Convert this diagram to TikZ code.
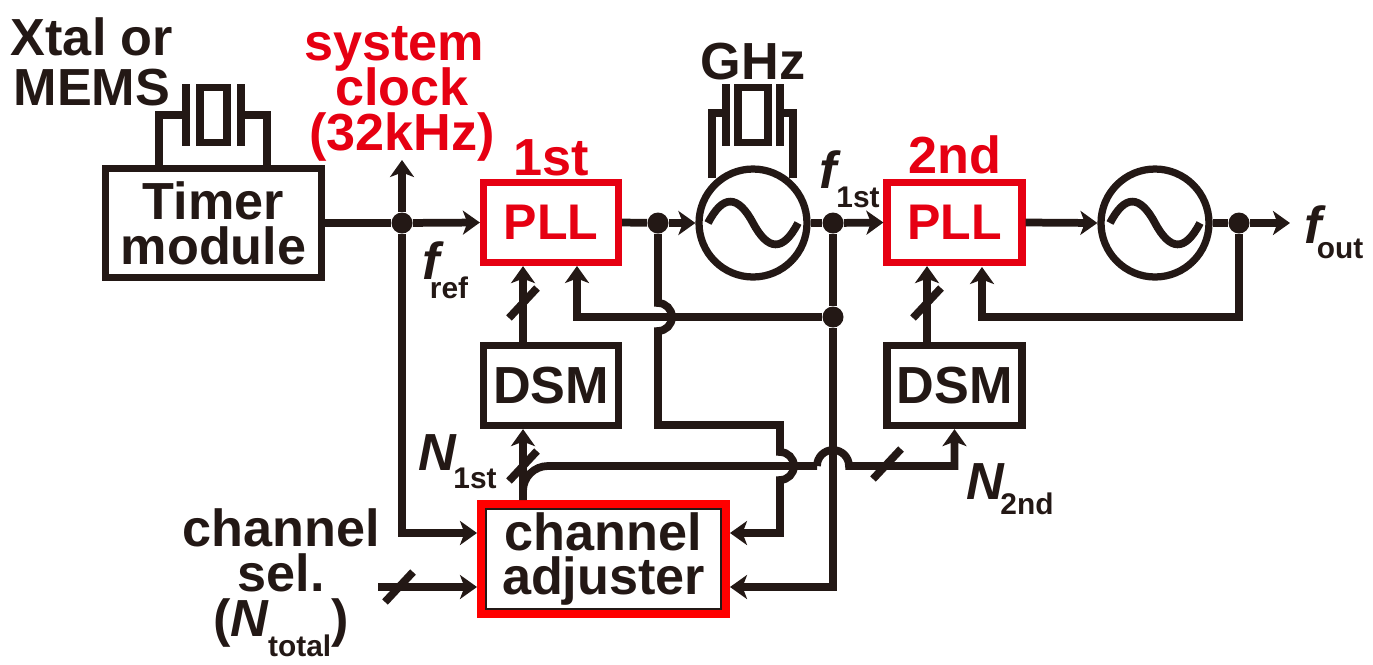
\documentclass[tikz,border=0pt]{standalone}
\usepackage{fontspec}
\setmainfont{Liberation Sans}
\usetikzlibrary{arrows.meta}
\definecolor{ink}{HTML}{231815}
\definecolor{pllred}{HTML}{E60012}
\lineskiplimit=-30pt
\tikzset{
  wire/.style={draw=ink,line width=.155cm},
  wirearrow/.style={wire,-{Stealth[length=.34cm,width=.48cm,inset=.09cm]}},
  blackbox/.style={draw=ink,line width=.145cm,fill=white,minimum width=2.7cm,minimum height=1.6cm,inner sep=0pt,text=ink},
  redbox/.style={blackbox,draw=pllred,text=pllred,font=\fontsize{28.5}{25}\selectfont\bfseries},
  dot/.style={circle,fill=ink,minimum size=.42cm,inner sep=0pt},
  vco/.style={circle,draw=ink,line width=.145cm,fill=white,minimum size=2.16cm,inner sep=0pt},
  big/.style={text=ink,inner sep=0pt},
  small/.style={font=\fontsize{17}{20}\selectfont\bfseries,text=ink,inner sep=0pt},
  bigit/.style={big,font=\fontsize{29.7}{25.6}\selectfont\bfseries\itshape}
}
\begin{document}
\begin{tikzpicture}[x=.02cm,y=-.02cm,every node/.append style={font=\fontsize{29.7}{25.6}\selectfont\bfseries,align=center}]
\useasboundingbox (0,0) rectangle (1373,664);

% blocks
\node[blackbox,minimum width=4.32cm,minimum height=2.18cm] (timer) at (213.5,223) {Timer\\module};
\node[redbox] (plla) at (551,222.5) {PLL};
\node[redbox] (pllb) at (954.5,222.5) {PLL};
\node[blackbox] (dsma) at (551,385.5) {DSM};
\node[blackbox] (dsmb) at (954.5,385.5) {DSM};
\node[blackbox,draw=red,line width=.18cm,minimum width=4.88cm,minimum height=2.18cm] (adj) at (603.5,559) {channel\\adjuster};
\draw[ink,line width=.025cm] ([shift={(9,9)}]adj.north west) rectangle ([shift={(-9,-9)}]adj.south east);
\node[vco] (vcoa) at (753,223) {};
\node[vco] (vcob) at (1155,223) {};

\foreach \c in {vcoa,vcob}
    \draw[wire,shift={(\c.center)}] (-45,0) .. controls (-30,-29) and (-15,-28) .. (0,0) .. controls (15,28) and (30,29) .. (45,0);

% junctions
\node[dot] (jref) at (402,223) {};
\node[dot] (jb) at (658,223) {};
\node[dot] (jc) at (833,223) {};
\node[dot] (jd) at (833,317) {};
\node[dot] (je) at (1239,223) {};

\coordinate (clk) at (402,160);
\coordinate (out) at (1290,223);
\coordinate (adja) at (477,533);
\coordinate (adjb) at (730,533);
\coordinate (adjc) at (730,587);
\coordinate (sel) at (378,587);
\coordinate (adjs) at (477,587);
\coordinate (fba) at (577,266);
\coordinate (fbb) at (982,267);
\coordinate (hopa) at (658,303);
\coordinate (bend) at (658,425);
\coordinate (hopb) at (780,452);
\coordinate (hopc) at (817,466);
\coordinate (tap) at (523,500);

% main path
\draw[wire] (timer.east) -- (jref);
\draw[wirearrow] (jref) -- (plla.west);
\draw[wirearrow] (jref) -- (clk);
\draw[wirearrow] (jref) |- (adja);
\draw[wire] (plla.east) -- (jb);
\draw[wirearrow] (jb) -- (vcoa.west);
\draw[wire] (vcoa.east) -- (jc);
\draw[wirearrow] (jc) -- (pllb.west);
\draw[wirearrow] (pllb.east) -- (vcob.west);
\draw[wire] (vcob.east) -- (je);
\draw[wirearrow] (je) -- (out);

% feedback
\draw[wire] (jc) -- (jd);
\draw[wirearrow] (jd) |- (adjc);
\draw[wirearrow] (jd) -| (fba);
\draw[wirearrow] (je) |- (982,317) -- (fbb);
\draw[wirearrow] (jb) -- (hopa) arc[start angle=90,end angle=-90,radius=.28cm] -- (bend) -| (hopb) arc[start angle=90,end angle=-90,radius=.28cm] |- (adjb);

% N words
\draw[wirearrow] (tap) -- (dsma.south -| tap);
\draw[wire,rounded corners=.5cm] (tap) |- (hopc);
\draw[wirearrow] (hopc) arc[start angle=180,end angle=0,radius=.32cm] -| (dsmb.south);
\draw[wirearrow] (dsma.north -| tap) -- (plla.south -| tap);
\draw[wirearrow] (dsmb.north -| 927,0) -- (pllb.south -| 927,0);
\draw[wirearrow] (sel) -- (adjs);

\foreach \p in {(523,303),(523,466),(927,303),(887,464),(399,587)}
    \draw[wire,shift={\p}] (-14,15) -- (14,-15);

% crystals
\node[draw=ink,line width=.145cm,minimum width=.54cm,minimum height=1.1cm,inner sep=0pt] (xa) at (213.5,115) {};
\draw[wire] (186,84) -- (186,146);
\draw[wire] (241,84) -- (241,146);
\draw[wire] (159,165) |- (186,115);
\draw[wire] (267,165) |- (241,115);
\node[draw=ink,line width=.145cm,minimum width=.6cm,minimum height=1.1cm,inner sep=0pt] (xb) at (753,115) {};
\draw[wire] (726,84) -- (726,146);
\draw[wire] (780,84) -- (780,146);
\draw[wire] (712,178) |- (726,113);
\draw[wire] (793,178) |- (780,113);

% labels
\node[big] (xtal) at (92,62) {Xtal or\\[3pt]MEMS};
\node[big,text=pllred] (sysclk) at (402,94) {system\kern.32cm\\clock\\(32kHz)};
\node[big,text=pllred] (lfirst) at (551,158) {1st};
\node[big,text=pllred] (lsecond) at (955,155) {2nd};
\node[big] (ghz) at (753,62) {GHz};
\node[big] (chsel) at (281,583) {channel\\sel.\\(\textit{N}\kern-.02em\raisebox{-.38em}{\fontsize{17}{17}\selectfont total})};

\node[bigit] (fref) at (431,261) {f};
\node[small] (frefs) at (449,288) {ref};
\node[bigit] (ffirst) at (828,170) {f};
\node[small] (ffirsts) at (858,197) {1st};
\node[bigit] (fout) at (1313,225) {f};
\node[small] (fouts) at (1340,249) {out};
\node[bigit] (nfirst) at (437,453) {N};
\node[small] (nfirsts) at (475,478) {1st};
\node[bigit] (nsecond) at (985,482) {N};
\node[small] (nseconds) at (1027,504) {2nd};
\end{tikzpicture}
\end{document}
